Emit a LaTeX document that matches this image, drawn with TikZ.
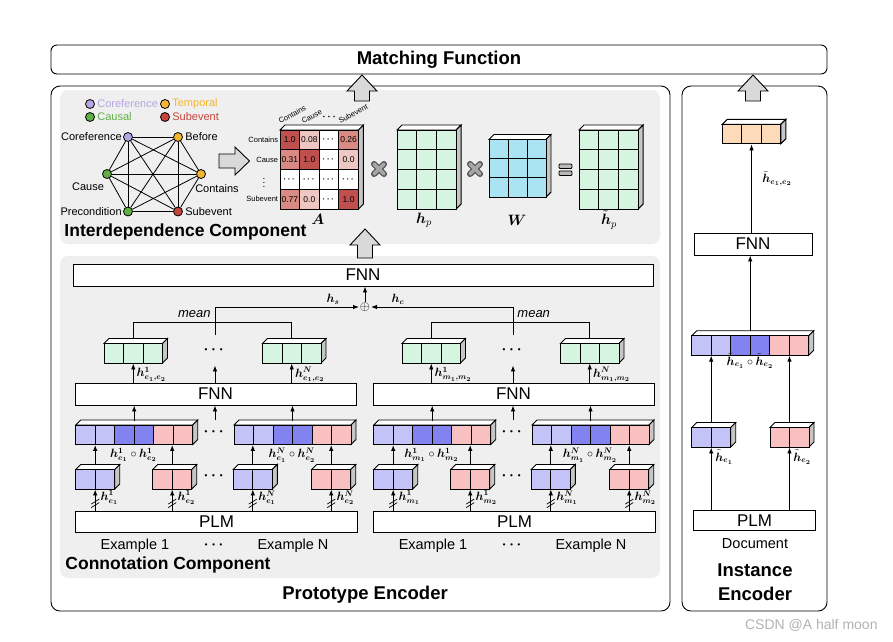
\RequirePackage{fix-cm}
\documentclass[tikz,border=0pt]{standalone}
\usepackage{amsmath,bm}
\usepackage{fontspec}
\setmainfont{Liberation Sans}
\usetikzlibrary{arrows.meta,positioning,calc}

\definecolor{panel}{HTML}{EFEFEF}
\definecolor{vlight}{HTML}{C3C3F8}
\definecolor{vdark}{HTML}{8282F0}
\definecolor{pinkc}{HTML}{F8C0C0}
\definecolor{greenc}{HTML}{D5F5E0}
\definecolor{peach}{HTML}{FDDAB8}
\definecolor{bluec}{HTML}{AAE4F2}
\definecolor{redD}{HTML}{C0504D}
\definecolor{redM}{HTML}{D98A83}
\definecolor{redL}{HTML}{EEC6C2}
\definecolor{purp}{HTML}{B8A5E3}
\definecolor{orng}{HTML}{F5B52F}
\definecolor{grn}{HTML}{62AF45}
\definecolor{rd}{HTML}{C4453B}

% row of vector cells with a 3d top and side: name, x, y, cells, colours
\newcommand{\cellrow}[5]{%
  \pgfmathsetmacro{\rowlen}{#4*19.5}
  \draw[fill=white] (#2,#3) -- ++(5,-5) -- ++(\rowlen,0) -- ++(-5,5) -- cycle;
  \draw[fill=gray!45] ({#2+\rowlen},#3) -- ++(5,-5) -- ++(0,19.5) -- ++(-5,5) -- cycle;
  \foreach \col [count=\i from 0] in {#5}
    \draw[fill=\col] ({#2+\i*19.5},#3) rectangle ++(19.5,19.5);
  \node[inner sep=0, minimum width=\rowlen, minimum height=19.5] (#1) at ({#2+\rowlen/2},{#3+9.75}) {};
}
% grid of cells with a 3d top and side: name, x, y, cols, rows, cell w, cell h, fill
\newcommand{\gridblock}[8]{%
  \draw[fill=white] (#2,#3) -- ++(5,-5) -- ++({#4*#6},0) -- ++(-5,5) -- cycle;
  \draw[fill=gray!45] ({#2+#4*#6},#3) -- ++(5,-5) -- ++(0,{#5*#7}) -- ++(-5,5) -- cycle;
  \foreach \i in {1,...,#4}
    \foreach \j in {1,...,#5}
      \draw[fill=#8] ({#2+(\i-1)*#6},{#3+(\j-1)*#7}) rectangle ++(#6,#7);
  \node[inner sep=0, minimum width={#4*#6}, minimum height={#5*#7}] (#1) at ({#2+#4*#6/2},{#3+#5*#7/2}) {};
}
% grey block arrow pointing up: x, tip y, tail y
\newcommand{\bigup}[3]{%
  \draw[fill=gray!30] (#1,#2) -- ({#1+15},{#2+16}) -- ({#1+7.5},{#2+16}) -- ({#1+7.5},#3)
    -- ({#1-7.5},#3) -- ({#1-7.5},{#2+16}) -- ({#1-15},{#2+16}) -- cycle;
}
% heavy times sign: x, y
\newcommand{\timesmark}[2]{%
  \draw[line width=6pt, black!70, line cap=round] ({#1-5},{#2-5}) -- ({#1+5},{#2+5}) ({#1-5},{#2+5}) -- ({#1+5},{#2-5});
  \draw[line width=3.6pt, gray!70, line cap=round] ({#1-5},{#2-5}) -- ({#1+5},{#2+5}) ({#1-5},{#2+5}) -- ({#1+5},{#2-5});
}

\begin{document}
\begin{tikzpicture}[x=1pt, y=-1pt, line width=0.9pt,
  >={Latex[length=6pt,width=4.5pt]},
  box/.style={draw, fill=white, inner sep=0, font=\fontsize{17}{17}\selectfont},
  txt/.style={inner sep=1pt, font=\fontsize{14.5}{14.5}\selectfont\boldmath},
  dotn/.style={inner sep=0, font=\fontsize{15}{15}\selectfont\boldmath},
  mlbl/.style={inner sep=1pt, font=\fontsize{12}{12}\selectfont},
  mean/.style={inner sep=1pt, font=\fontsize{13}{13}\selectfont\itshape},
  glbl/.style={inner sep=1pt, font=\fontsize{11}{11}\selectfont},
  tiny/.style={inner sep=0.5pt, font=\fontsize{7.5}{7.5}\selectfont},
  ev/.style={circle, draw, line width=0.8pt, inner sep=0, minimum size=9},
  comp/.style={inner sep=0, font=\fontsize{17.5}{17.5}\selectfont\bfseries},
  bigt/.style={inner sep=0, font=\fontsize{18.5}{24}\selectfont\bfseries}]
\useasboundingbox (0,0) rectangle (893,641);

% frames
\node[draw, rounded corners=6, minimum width=776, minimum height=29, inner sep=0, font=\fontsize{18.5}{18.5}\selectfont\bfseries] (match) at (439,59.5) {Matching Function};
\draw[rounded corners=9] (51,86) rectangle (670,611);
\draw[rounded corners=9] (682,86) rectangle (827,611);
\fill[panel, rounded corners=8] (60,90) rectangle (660,244);
\fill[panel, rounded corners=8] (60,256) rectangle (660,578);
\node[bigt] (proto) at (365,595) {Prototype Encoder};
\node[bigt, align=center] (inst) at (755,582) {Instance\\Encoder};

\bigup{362}{75}{101}
\bigup{753}{75}{101}
\bigup{365}{229}{258}

% interdependence: legend
\node[ev, fill=purp] (k1) at (90,104) {};
\node[glbl, right=1pt of k1, text=purp] (k1t) {Coreference};
\node[ev, fill=orng] (k2) at (165,104) {};
\node[glbl, right=1pt of k2, text=orng] (k2t) {Temporal};
\node[ev, fill=grn] (k3) at (90,117) {};
\node[glbl, right=1pt of k3, text=grn] (k3t) {Causal};
\node[ev, fill=rd] (k4) at (165,117) {};
\node[glbl, right=1pt of k4, text=rd] (k4t) {Subevent};

% relation graph
\node[ev, fill=purp] (cor) at (128,137) {};
\node[ev, fill=orng] (bef) at (178,137) {};
\node[ev, fill=grn] (cau) at (107,174) {};
\node[ev, fill=orng] (con) at (201,174) {};
\node[ev, fill=grn] (pre) at (128,211.5) {};
\node[ev, fill=rd] (sub) at (178,211.5) {};
\foreach \a/\b in {cor/bef,cor/cau,cor/con,cor/pre,cor/sub,bef/cau,bef/con,bef/pre,bef/sub,
                   cau/con,cau/pre,cau/sub,con/pre,con/sub,pre/sub}
  \draw[line width=0.8pt] (\a) -- (\b);
\node[glbl, left=0pt of cor] (corl) {Coreference};
\node[glbl, right=1pt of bef] (befl) {Before};
\node[glbl] (caul) at (88,187) {Cause};
\node[glbl] (conl) at (217,189) {Contains};
\node[glbl, left=0pt of pre] (prel) {Precondition};
\node[glbl, right=1pt of sub] (subl) {Subevent};
\draw[fill=gray!30] (219,154) -- (235,154) -- (235,147) -- (249.5,161) -- (235,175) -- (235,168) -- (219,168) -- cycle;

% matrix A
\gridblock{A}{280}{130}{4}{4}{19.6}{19.75}{white}
\foreach \r/\c/\clr/\val in {0/0/redD/1.0, 0/1/redL/0.08, 0/2/white/$\cdots$, 0/3/redM/0.26,
                            1/0/redM/0.31, 1/1/redD/1.0, 1/2/white/$\cdots$, 1/3/redL/0.0,
                            2/0/white/$\cdots$, 2/1/white/$\cdots$, 2/2/white/$\cdots$, 2/3/white/$\cdots$,
                            3/0/redM/0.77, 3/1/redL/0.0, 3/2/white/$\cdots$, 3/3/redD/1.0} {
  \draw[fill=\clr] ({280+\c*19.6},{130+\r*19.75}) rectangle ++(19.6,19.75);
  \node[inner sep=0, font=\fontsize{8.5}{8.5}\selectfont\boldmath] (a\r\c) at ({289.8+\c*19.6},{139.9+\r*19.75}) {\val};
}
\node[tiny, anchor=east] (rl1) at (279,140) {Contains};
\node[tiny, anchor=east] (rl2) at (279,160) {Cause};
\node[inner sep=0, font=\fontsize{10}{10}\selectfont\boldmath] (rl3) at (264,180) {$\vdots$};
\node[tiny, anchor=east] (rl4) at (279,199) {Subevent};
\node[tiny, anchor=south west, rotate=28] (cl1) at (280,125) {Contains};
\node[tiny, anchor=south west, rotate=28] (cl2) at (303,125) {Cause};
\node[inner sep=0, font=\fontsize{10}{10}\selectfont\boldmath] (cl3) at (330,117) {$\cdots$};
\node[tiny, anchor=south west, rotate=28] (cl4) at (340,125) {Subevent};
\node[inner sep=0, font=\fontsize{15}{15}\selectfont] (Al) at (318,219) {$\bm{A}$};

% hp, W and result
\timesmark{379}{169}
\gridblock{hp}{397}{130}{3}{4}{19.7}{19.75}{greenc}
\node[inner sep=0, font=\fontsize{15}{15}\selectfont] (hpl) at (424,220) {$\bm{h}_p$};
\timesmark{475}{169}
\gridblock{W}{489}{139.5}{3}{3}{19}{19.2}{bluec}
\node[inner sep=0, font=\fontsize{15}{15}\selectfont] (Wl) at (517,220) {$\bm{W}$};
\draw[fill=gray!55, rounded corners=1, line width=0.8pt] (559,164) rectangle (572,168.5);
\draw[fill=gray!55, rounded corners=1, line width=0.8pt] (559,171) rectangle (572,175.5);
\gridblock{hq}{579}{130}{3}{4}{19.7}{19.75}{greenc}
\node[inner sep=0, font=\fontsize{15}{15}\selectfont] (hql) at (609,220) {$\tilde{\bm{h}}_p$};
\node[comp, anchor=west] (intl) at (64,232) {Interdependence Component};

% connotation: two example branches
\foreach \gx/\g/\s in {0/L/e, 298/R/m} {
  \begin{scope}[xshift=\gx pt]
    \node[box, minimum width=281.6, minimum height=21.3] (plm\g) at (216.5,521.7) {PLM};
    \node[txt] (exa\g) at (135,545.5) {Example 1};
    \node[txt] (exb\g) at (215,545.5) {$\cdots$};
    \node[txt] (exc\g) at (293,545.5) {Example N};
    \cellrow{pa\g}{75.7}{469.5}{2}{vlight,vlight}
    \cellrow{pb\g}{152.7}{469.5}{2}{pinkc,pinkc}
    \cellrow{qa\g}{233.3}{469.5}{2}{vlight,vlight}
    \cellrow{qb\g}{311.7}{469.5}{2}{pinkc,pinkc}
    \node[dotn] (sd\g) at (215,476) {$\cdots$};
    \foreach \v/\n/\k in {pa/1/1, pb/1/2, qa/N/1, qb/N/2} {
      \coordinate (s\v\g) at (\v\g.south |- plm\g.north);
      \draw[->] (s\v\g) -- (\v\g.south);
      \draw[line width=0.7pt] ([shift={(-4,-3)}]s\v\g) -- ++(8,-5);
      \draw[line width=0.7pt] ([shift={(-4,-6.5)}]s\v\g) -- ++(8,-5);
      \node[mlbl, anchor=west] (l\v\g) at ([shift={(4,-13)}]s\v\g) {$\bm{h^{\n}_{\s_{\k}}}$};
    }
    \cellrow{ca\g}{75.7}{425}{6}{vlight,vlight,vdark,vdark,pinkc,pinkc}
    \cellrow{cb\g}{234}{425}{6}{vlight,vlight,vdark,vdark,pinkc,pinkc}
    \node[dotn, minimum height=24] (cd\g) at (215,432) {$\cdots$};
    \foreach \v/\w in {pa/ca, pb/ca, qa/cb, qb/cb}
      \draw[->] ([yshift=4pt]\v\g.north) -- (\v\g.north |- \w\g.south);
    \node[mlbl] (lca\g) at (133.5,455) {$\bm{h^1_{\s_1}}\circ\bm{h^1_{\s_2}}$};
    \node[mlbl] (lcb\g) at (292,455) {$\bm{h^N_{\s_1}}\circ\bm{h^N_{\s_2}}$};
    \node[box, minimum width=281, minimum height=22] (f\g) at (215.5,394) {FNN};
    \foreach \w in {ca, cb}
      \draw[->] ([yshift=4pt]\w\g.north) -- (\w\g.north |- f\g.south);
    \draw[->] (cd\g.north) -- (cd\g.north |- f\g.south);
    \cellrow{ga\g}{104}{343.5}{3}{greenc,greenc,greenc}
    \cellrow{gb\g}{262.5}{343.5}{3}{greenc,greenc,greenc}
    \node[dotn, minimum height=30] (gd\g) at (215,350) {$\cdots$};
    \foreach \w in {ga, gb, gd}
      \draw[->] (\w\g.south |- f\g.north) -- (\w\g.south);
    \node[mlbl, anchor=west] (lga\g) at ([shift={(2,11)}]ga\g.south) {$\bm{h^1_{\s_1,\s_2}}$};
    \node[mlbl, anchor=west] (lgb\g) at ([shift={(2,11)}]gb\g.south) {$\bm{h^N_{\s_1,\s_2}}$};
    \draw ([yshift=4pt]ga\g.north) -- ++(0,-17) -| ([yshift=4pt]gb\g.north);
  \end{scope}
}
\node[box, minimum width=580, minimum height=22] (fnnT) at (363,275) {FNN};
\node[inner sep=0.5pt, font=\fontsize{13}{13}\selectfont] (plus) at (365,307) {$\oplus$};
\draw[->] (plus) -- (plus |- fnnT.south);
\draw[->] (gdL.north) |- (plus);
\draw[->] (gdR.north) |- (plus);
\node[mean, anchor=east] (meanL) at (212,314) {mean};
\node[mean, anchor=west] (meanR) at (516,314) {mean};
\node[mlbl] (hs) at (333,299) {$\bm{h_s}$};
\node[mlbl] (hc) at (398,299) {$\bm{h_c}$};
\node[comp, anchor=west] (conn) at (65,565) {Connotation Component};

% instance encoder
\node[box, minimum width=122, minimum height=20] (plmI) at (754.5,520.7) {PLM};
\node[txt] (doc) at (755,544) {Document};
\cellrow{ae}{691.7}{427.5}{2}{vlight,vlight}
\cellrow{be}{770}{427.5}{2}{pinkc,pinkc}
\cellrow{ce}{691.7}{335.7}{6}{vlight,vlight,vdark,vdark,pinkc,pinkc}
\node[box, minimum width=118, minimum height=22] (fnnI) at (753,244) {FNN};
\cellrow{oe}{722.3}{124.3}{3}{peach,peach,peach}
\foreach \v in {ae, be} {
  \draw[->] (\v.south |- plmI.north) -- (\v.south);
  \draw[->] ([yshift=4pt]\v.north) -- (\v.north |- ce.south);
}
\node[mlbl, anchor=west] (lae) at (714,457) {$\bm{\tilde{h}_{e_1}}$};
\node[mlbl, anchor=west] (lbe) at (792,457) {$\bm{\tilde{h}_{e_2}}$};
\node[mlbl] (lce) at (750,361) {$\bm{\tilde{h}_{e_1}}\circ\bm{\tilde{h}_{e_2}}$};
\draw[->] ([yshift=4pt]ce.north) -- (ce.north |- fnnI.south);
\draw[->] (oe.south |- fnnI.north) -- (oe.south);
\node[mlbl, anchor=west] (loe) at (761,179) {$\bm{\tilde{h}_{e_1,e_2}}$};

\node[inner sep=0, text=gray!60, font=\fontsize{14}{14}\selectfont, anchor=east] (mark) at (878,625) {CSDN @A half moon};
\end{tikzpicture}
\end{document}
